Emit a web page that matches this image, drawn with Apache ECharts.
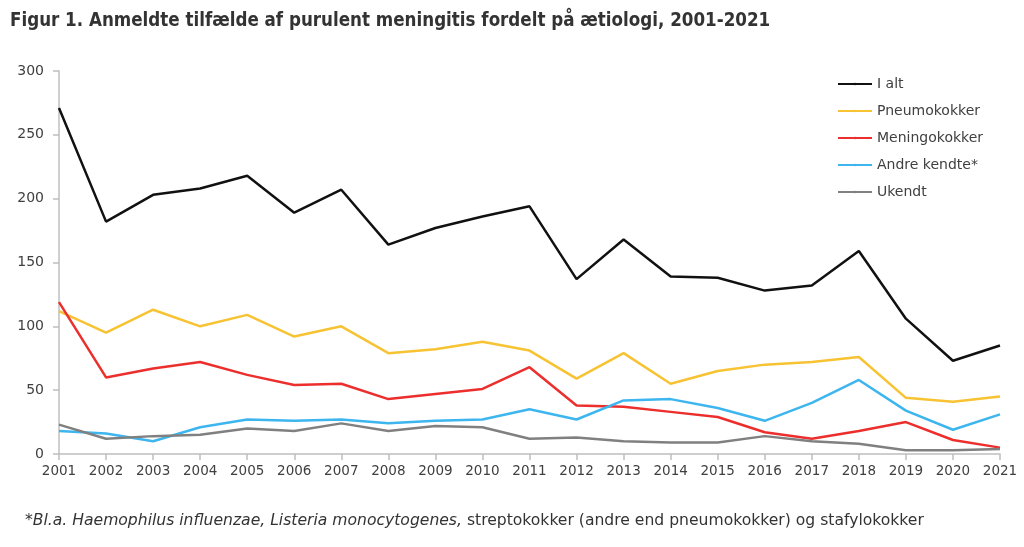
<!DOCTYPE html>
<html><head><meta charset="utf-8">
<script src="https://cdn.jsdelivr.net/npm/echarts@6/dist/echarts.min.js"></script>
<style>html,body{margin:0;padding:0;background:#fff}#c{width:1024px;height:547px}</style>
</head><body><div id="c"></div>
<script>
const years = ['2001','2002','2003','2004','2005','2006','2007','2008','2009','2010','2011','2012','2013','2014','2015','2016','2017','2018','2019','2020','2021'];
const iAlt = [271,182,203,208,218,189,207,164,177,186,194,137,168,139,138,128,132,159,106,73,85];
const pneumokokker = [112,95,113,100,109,92,100,79,82,88,81,59,79,55,65,70,72,76,44,41,45];
const meningokokker = [119,60,67,72,62,54,55,43,47,51,68,38,37,33,29,17,12,18,25,11,5];
const andreKendte = [18,16,10,21,27,26,27,24,26,27,35,27,42,43,36,26,40,58,34,19,31];
const ukendt = [23,12,14,15,20,18,24,18,22,21,12,13,10,9,9,14,10,8,3,3,4];
const yTicks = [0,50,100,150,200,250,300];

const font = '"DejaVu Sans", sans-serif';
const txt = '#404040';
function mk(name, data, color){
  return {name, type:'line', data, symbol:'none', lineStyle:{width:2.5, color}, itemStyle:{color}};
}
const chart = echarts.init(document.getElementById('c'));
chart.setOption({
  animation:false,
  textStyle:{fontFamily:font},
  title:{text:'Figur 1. Anmeldte tilfælde af purulent meningitis fordelt på ætiologi, 2001-2021', left:5, top:7,
    textStyle:{fontFamily:'"DejaVu Sans Condensed", "DejaVu Sans", sans-serif', fontSize:18.6, fontWeight:'bold', color:'#333'}},
  legend:{orient:'vertical', left:832, top:72, itemWidth:34, itemHeight:3, itemGap:13,
    textStyle:{fontFamily:font, fontSize:14, color:txt, padding:[0,0,0,0]},
    data:['I alt','Pneumokokker','Meningokokker','Andre kendte*','Ukendt']},
  grid:{left:59, right:24, top:71, bottom:93, containLabel:false},
  xAxis:{type:'category', data:years, boundaryGap:false,
    axisLine:{lineStyle:{color:'#bfbfbf', width:1.5}},
    axisTick:{show:true, alignWithLabel:true, length:6, lineStyle:{color:'#bfbfbf', width:1.5}},
    axisLabel:{color:txt, fontSize:13.5, margin:10, interval:0}},
  yAxis:{type:'value', min:yTicks[0], max:yTicks[yTicks.length-1], interval:50,
    axisLine:{show:true, lineStyle:{color:'#bfbfbf', width:1.5}},
    axisTick:{show:true, length:6, lineStyle:{color:'#bfbfbf', width:1.5}},
    splitLine:{show:false},
    axisLabel:{color:txt, fontSize:14, margin:15}},
  graphic:[{type:'text', left:25, top:513, style:{
    rich:{i:{fontStyle:'italic', fontFamily:font, fontSize:15.6, fill:'#333'}, n:{fontFamily:font, fontSize:15.6, fill:'#333'}},
    text:'{i|*Bl.a. Haemophilus influenzae, Listeria monocytogenes,}{n| streptokokker (andre end pneumokokker) og stafylokokker}'}}],
  series:[
    mk('I alt', iAlt, '#111111'),
    mk('Pneumokokker', pneumokokker, '#F7C333'),
    mk('Meningokokker', meningokokker, '#EC2F2D'),
    mk('Andre kendte*', andreKendte, '#3DB5EE'),
    mk('Ukendt', ukendt, '#808080')
  ]
});
</script></body></html>
